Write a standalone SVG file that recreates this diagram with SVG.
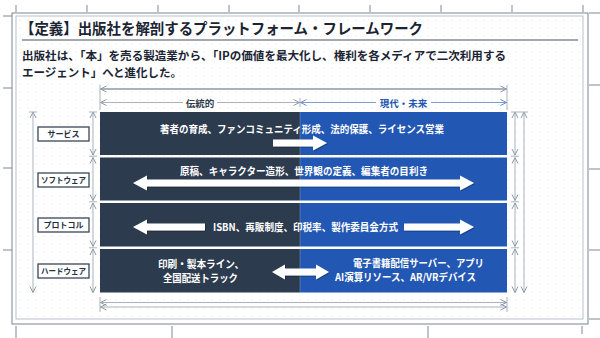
<svg xmlns="http://www.w3.org/2000/svg" width="600" height="338" viewBox="0 0 600 338">
<style>
.jp{font-family:"Noto Sans CJK JP","Noto Sans",sans-serif;font-weight:700}
.title{font-size:15px;fill:#1b2433}
.sub{font-size:11.5px;fill:#1b2433}
.row{font-size:10.5px;fill:#ffffff}
.lbl{font-size:8px;fill:#243040;text-anchor:middle}
.dim{stroke:#a9b3bf;stroke-width:1;fill:none}
.dimb{stroke:#7d9bd0;stroke-width:1;fill:none}
.tick{stroke:#7f8996;stroke-width:1}
.box{fill:#ffffff;stroke:#3a4657;stroke-width:1.3}
.wa{fill:#ffffff;filter:url(#sh)}
</style>
<defs>
<pattern id="dots" width="8" height="8" patternUnits="userSpaceOnUse">
<circle cx="4" cy="4" r="0.6" fill="#d3d9e0"/>
</pattern>
<marker id="ar" viewBox="0 0 8 8" refX="7.5" refY="4" markerWidth="8" markerHeight="8" markerUnits="userSpaceOnUse" orient="auto-start-reverse">
<path d="M1.5,1 L7.5,4 L1.5,7" fill="none" stroke="#8e99a6" stroke-width="1"/>
</marker>
<marker id="arb" viewBox="0 0 8 8" refX="7.5" refY="4" markerWidth="8" markerHeight="8" markerUnits="userSpaceOnUse" orient="auto-start-reverse">
<path d="M1.5,1 L7.5,4 L1.5,7" fill="none" stroke="#6f8fc8" stroke-width="1"/>
</marker>
<filter id="sh" x="-20%" y="-40%" width="140%" height="180%">
<feDropShadow dx="0.6" dy="0.8" stdDeviation="0.7" flood-color="#000000" flood-opacity="0.45"/>
</filter>
</defs>

<rect x="0" y="0" width="600" height="338" fill="#ffffff"/>

<!-- page frame and rulers -->
<g id="frame">
<rect x="12" y="13" width="576" height="311" fill="#ffffff" stroke="#7a8592" stroke-width="1"/>
<rect x="16" y="16" width="567" height="303" fill="#ffffff" stroke="#b9c1cb" stroke-width="1"/>
<rect x="17" y="17" width="565" height="301" fill="url(#dots)"/>
<g class="tick">
<line x1="16" y1="5" x2="16" y2="12"/><line x1="87" y1="5" x2="87" y2="12"/><line x1="158" y1="5" x2="158" y2="12"/>
<line x1="229" y1="5" x2="229" y2="12"/><line x1="299" y1="5" x2="299" y2="12"/><line x1="370" y1="5" x2="370" y2="12"/>
<line x1="441" y1="5" x2="441" y2="12"/><line x1="512" y1="5" x2="512" y2="12"/><line x1="583" y1="5" x2="583" y2="12"/>
<line x1="3" y1="16" x2="12" y2="16"/><line x1="3" y1="88" x2="12" y2="88"/><line x1="3" y1="168" x2="12" y2="168"/><line x1="3" y1="250" x2="12" y2="250"/>
<line x1="589" y1="13" x2="600" y2="13"/><line x1="589" y1="85" x2="600" y2="85"/><line x1="589" y1="169" x2="600" y2="169"/><line x1="589" y1="250" x2="600" y2="250"/><line x1="589" y1="319" x2="600" y2="319"/>
<line x1="16" y1="326" x2="16" y2="338"/><line x1="172" y1="326" x2="172" y2="338"/><line x1="428" y1="326" x2="428" y2="338"/><line x1="582" y1="326" x2="582" y2="334"/>
</g>
</g>

<!-- title -->
<g id="title">
<text class="jp title" x="20" y="34" textLength="403" lengthAdjust="spacingAndGlyphs">【定義】出版社を解剖するプラットフォーム・フレームワーク</text>
<line x1="22" y1="40" x2="578" y2="40" stroke="#46525f" stroke-width="1.2"/>
<text class="jp sub" x="22" y="60" textLength="484" lengthAdjust="spacingAndGlyphs">出版社は、「本」を売る製造業から、「IPの価値を最大化し、権利を各メディアで二次利用する</text>
<text class="jp sub" x="22" y="77" textLength="160" lengthAdjust="spacingAndGlyphs">エージェント」へと進化した。</text>
</g>

<!-- rows -->
<g id="row-service">
<rect x="100" y="112" width="200" height="43" fill="#2d3b4f"/>
<rect x="300" y="112" width="207" height="43" fill="#2257b3"/>
<text class="jp row" x="160" y="133" textLength="284" lengthAdjust="spacingAndGlyphs">著者の育成、ファンコミュニティ形成、法的保護、ライセンス営業</text>
</g>
<g id="row-software">
<rect x="100" y="157.5" width="200" height="43" fill="#2d3b4f"/>
<rect x="300" y="157.5" width="207" height="43" fill="#2257b3"/>
<text class="jp row" x="180" y="175" textLength="248" lengthAdjust="spacingAndGlyphs">原稿、キャラクター造形、世界観の定義、編集者の目利き</text>
</g>
<g id="row-protocol">
<rect x="100" y="203" width="200" height="43.5" fill="#2d3b4f"/>
<rect x="300" y="203" width="207" height="43.5" fill="#2257b3"/>
<text class="jp row" x="213" y="231" textLength="185" lengthAdjust="spacingAndGlyphs">ISBN、再販制度、印税率、製作委員会方式</text>
</g>
<g id="row-hardware">
<rect x="100" y="249" width="200" height="43.5" fill="#2d3b4f"/>
<rect x="300" y="249" width="207" height="43.5" fill="#2257b3"/>
<text class="jp row" x="158" y="268" textLength="86" lengthAdjust="spacingAndGlyphs">印刷・製本ライン、</text>
<text class="jp row" x="163" y="282" textLength="75" lengthAdjust="spacingAndGlyphs">全国配送トラック</text>
<text class="jp row" x="353" y="267" textLength="131" lengthAdjust="spacingAndGlyphs">電子書籍配信サーバー、アプリ</text>
<text class="jp row" x="335" y="281" textLength="141" lengthAdjust="spacingAndGlyphs">AI演算リソース、AR/VRデバイス</text>
</g>
<line x1="300" y1="112" x2="300" y2="292.5" stroke="#ffffff" stroke-opacity="0.22" stroke-width="1"/>

<!-- labels -->
<g id="label-service"><rect class="box" x="38" y="127" width="51" height="14"/><text class="jp lbl" x="63.5" y="137">サービス</text></g>
<g id="label-software"><rect class="box" x="38" y="173" width="51" height="14"/><text class="jp lbl" x="63.5" y="183" textLength="45" lengthAdjust="spacingAndGlyphs">ソフトウェア</text></g>
<g id="label-protocol"><rect class="box" x="38" y="218" width="51" height="14"/><text class="jp lbl" x="63.5" y="228">プロトコル</text></g>
<g id="label-hardware"><rect class="box" x="38" y="264" width="51" height="14"/><text class="jp lbl" x="63.5" y="274" textLength="45" lengthAdjust="spacingAndGlyphs">ハードウェア</text></g>

<!-- header labels -->
<g id="header-traditional"><text class="jp" x="200" y="106.5" font-size="9.5" fill="#2f3b4b" text-anchor="middle">伝統的</text></g>
<g id="header-modern"><text class="jp" x="403.5" y="106.5" font-size="9.5" fill="#2356b0" text-anchor="middle">現代・未来</text></g>

<!-- connectors / dimension lines and arrows -->
<g id="connectors">
<line x1="100" y1="85" x2="100" y2="110" class="dim"/>
<line x1="507" y1="85" x2="507" y2="110" class="dim"/>
<line x1="300" y1="98" x2="300" y2="107" class="dim"/>
<line x1="100.5" y1="89" x2="506.5" y2="89" stroke="#a9b3bf" stroke-width="1.8" marker-start="url(#ar)" marker-end="url(#ar)"/>
<line x1="100.5" y1="102.5" x2="183" y2="102.5" class="dim" marker-start="url(#ar)"/>
<line x1="217" y1="102.5" x2="299.5" y2="102.5" class="dim" marker-end="url(#ar)"/>
<line x1="300.5" y1="102.5" x2="376" y2="102.5" class="dimb" marker-start="url(#arb)"/>
<line x1="431" y1="102.5" x2="506.5" y2="102.5" class="dimb" marker-end="url(#arb)"/>

<line x1="33" y1="112" x2="33" y2="292.5" class="dim" marker-start="url(#ar)" marker-end="url(#ar)"/>
<line x1="93" y1="112" x2="93" y2="155" class="dim" marker-start="url(#ar)" marker-end="url(#ar)"/>
<line x1="93" y1="157.5" x2="93" y2="200.5" class="dim" marker-start="url(#ar)" marker-end="url(#ar)"/>
<line x1="93" y1="203" x2="93" y2="246.5" class="dim" marker-start="url(#ar)" marker-end="url(#ar)"/>
<line x1="93" y1="249" x2="93" y2="292.5" class="dim" marker-start="url(#ar)" marker-end="url(#ar)"/>
<line x1="515" y1="112" x2="515" y2="155" class="dim" marker-start="url(#ar)" marker-end="url(#ar)"/>
<line x1="515" y1="157.5" x2="515" y2="200.5" class="dim" marker-start="url(#ar)" marker-end="url(#ar)"/>
<line x1="515" y1="203" x2="515" y2="246.5" class="dim" marker-start="url(#ar)" marker-end="url(#ar)"/>
<line x1="515" y1="249" x2="515" y2="292.5" class="dim" marker-start="url(#ar)" marker-end="url(#ar)"/>
<line x1="524" y1="112" x2="524" y2="292.5" class="dim" marker-start="url(#ar)" marker-end="url(#ar)"/>
<g class="dim">
<line x1="29" y1="112" x2="37" y2="112"/><line x1="89" y1="112" x2="97" y2="112"/>
<line x1="89" y1="156.2" x2="97" y2="156.2"/><line x1="89" y1="201.8" x2="97" y2="201.8"/><line x1="89" y1="247.8" x2="97" y2="247.8"/>
<line x1="511" y1="112" x2="528" y2="112"/>
<line x1="511" y1="156.2" x2="519" y2="156.2"/><line x1="511" y1="201.8" x2="519" y2="201.8"/><line x1="511" y1="247.8" x2="519" y2="247.8"/>
</g>

<line x1="100" y1="297" x2="100" y2="312" class="dim"/>
<line x1="507" y1="297" x2="507" y2="312" class="dim"/>
<line x1="100.5" y1="302.5" x2="506.5" y2="302.5" class="dim" marker-start="url(#ar)" marker-end="url(#ar)"/>
<line x1="100.5" y1="307" x2="506.5" y2="307" class="dim" marker-start="url(#ar)" marker-end="url(#ar)"/>

<!-- big white arrows -->
<polygon class="wa" points="273,139.5 313,139.5 313,135.5 327,143 313,150.5 313,146.5 273,146.5"/>
<polygon class="wa" points="133,183 147,175.5 147,179.5 460,179.5 460,175.5 474,183 460,190.5 460,186.5 147,186.5 147,190.5"/>
<polygon class="wa" points="133,227 147,219.5 147,223.5 205,223.5 205,230.5 147,230.5 147,234.5"/>
<polygon class="wa" points="404,223.5 460,223.5 460,219.5 474,227 460,234.5 460,230.5 404,230.5"/>
<polygon class="wa" points="272,272 285,264.5 285,268.5 316,268.5 316,264.5 329,272 316,279.5 316,275.5 285,275.5 285,279.5"/>
</g>
</svg>
